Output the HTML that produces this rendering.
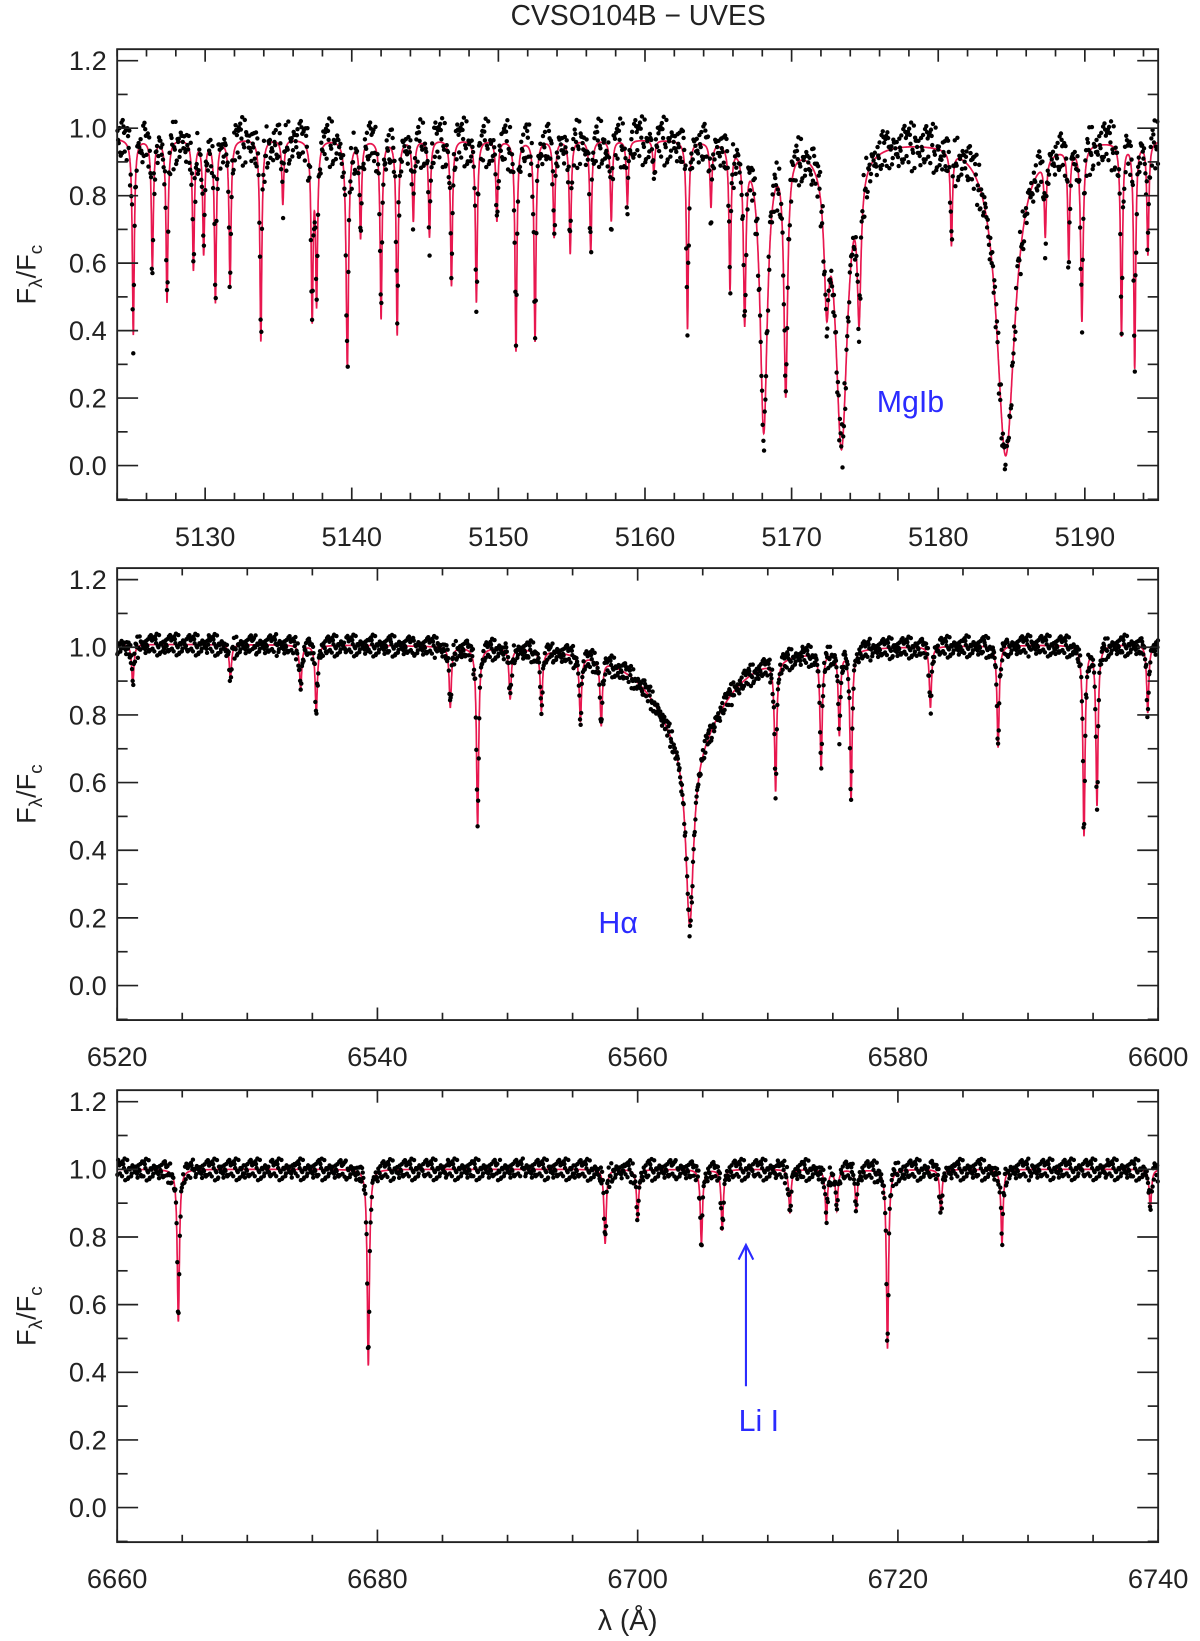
<!DOCTYPE html>
<html><head><meta charset="utf-8"><style>
html,body{margin:0;padding:0;background:#fff;}
svg{display:block;}
text{font-family:"Liberation Sans",sans-serif;fill:#222;}
</style></head><body>
<svg id="chart" width="1200" height="1641" viewBox="0 0 1147 1568.5" xmlns="http://www.w3.org/2000/svg">
<text x="610" y="24" font-size="27" text-anchor="middle">CVSO104B − UVES</text>
</svg>
<script>
// ---- Data ----
const panel1Centers = [5125.1,5126.4,5127.4,5129.2,5129.9,5130.7,5131.7,5133.8,5135.3,5137.3,5137.6,5139.7,5140.6,5142.0,5143.1,5144.2,5145.3,5146.8,5148.5,5149.9,5151.2,5152.5,5153.8,5154.9,5156.3,5157.7,5158.8,5160.6,5162.9,5164.5,5165.8,5166.8,5168.1,5169.6,5172.4,5173.4,5174.6,5180.9,5184.6,5187.3,5188.9,5189.8,5192.5,5193.4,5194.3];
const panel1Depths  = [0.6,0.4,0.5,0.4,0.35,0.5,0.45,0.62,0.2,0.55,0.5,0.7,0.3,0.55,0.6,0.25,0.3,0.45,0.5,0.25,0.65,0.62,0.3,0.35,0.35,0.25,0.2,0.1,0.58,0.2,0.45,0.55,0.9,0.78,0.45,0.95,0.5,0.3,0.97,0.25,0.35,0.55,0.6,0.7,0.35];
const panel1Widths  = [0.08,0.08,0.08,0.08,0.08,0.08,0.08,0.08,0.08,0.08,0.08,0.1,0.08,0.08,0.08,0.08,0.08,0.08,0.08,0.08,0.08,0.08,0.08,0.08,0.08,0.08,0.08,0.08,0.08,0.08,0.08,0.1,0.3,0.15,0.2,0.5,0.15,0.08,0.75,0.08,0.08,0.1,0.08,0.08,0.08];
const panel2Centers = [6521.2,6528.7,6534.1,6535.3,6545.6,6547.7,6550.2,6552.6,6555.6,6557.2,6564.0,6564.0,6570.6,6574.1,6575.5,6576.4,6582.5,6587.7,6594.3,6595.3,6599.2];
const panel2Depths  = [0.12,0.1,0.13,0.2,0.18,0.53,0.15,0.18,0.2,0.2,0.3,0.75,0.4,0.35,0.25,0.45,0.18,0.3,0.56,0.47,0.2];
const panel2Widths  = [0.1,0.1,0.1,0.1,0.1,0.1,0.1,0.1,0.1,0.1,3.0,0.35,0.1,0.1,0.1,0.1,0.1,0.1,0.1,0.1,0.1];
const panel3Centers = [6664.7,6679.3,6697.5,6700.0,6704.9,6706.5,6711.7,6714.5,6715.3,6716.8,6719.2,6723.3,6728.0,6739.4];
const panel3Depths  = [0.45,0.58,0.22,0.15,0.22,0.18,0.13,0.15,0.12,0.12,0.53,0.13,0.22,0.12];
const panel3Widths  = [0.1,0.1,0.1,0.1,0.1,0.1,0.1,0.1,0.1,0.1,0.1,0.1,0.1,0.1];
const noise = [0.03,-0.05,0.01,0.06,-0.02,-0.07,0.04,0.0,-0.03,0.08,-0.04,0.02,-0.06,0.05,-0.01,0.03,-0.08,0.07,-0.02,0.01,-0.05,0.04,0.02,-0.01,0.05,-0.03,0.0,0.06,-0.04,0.02,-0.02,0.03,-0.06,0.01,0.04,-0.05,0.0,0.07,-0.03];
const yTicks = [0.0,0.2,0.4,0.6,0.8,1.0,1.2];
const xTicks1 = [5130,5140,5150,5160,5170,5180,5190];
const xTicks2 = [6520,6540,6560,6580,6600];
const xTicks3 = [6660,6680,6700,6720,6740];

const NS='http://www.w3.org/2000/svg';
const svg=document.getElementById('chart');
function el(t,a,p){const e=document.createElementNS(NS,t);for(const k in a)e.setAttribute(k,a[k]);(p||svg).appendChild(e);return e;}

function model(l,C,D,W,cont){let f=cont;for(let i=0;i<C.length;i++){const u=(l-C[i])/W[i];f*=1-D[i]/(1+u*u);}return f;}

const panels=[
 {name:'mgb',top:47,bot:478,xmin:5124.0,xmax:5195.0,C:panel1Centers,D:panel1Depths,W:panel1Widths,ticks:xTicks1,minor:2,cont:0.97,ns:0.9,step:0.045},
 {name:'halpha',top:543,bot:975,xmin:6520,xmax:6600,C:panel2Centers,D:panel2Depths,W:panel2Widths,ticks:xTicks2,minor:5,cont:1.01,ns:0.4,step:0.045},
 {name:'lithium',top:1042,bot:1474,xmin:6660,xmax:6740,C:panel3Centers,D:panel3Depths,W:panel3Widths,ticks:xTicks3,minor:5,cont:1.0,ns:0.4,step:0.05}
];
const L=112,R=1107;
panels.forEach((p,pi)=>{
 const y0=p.bot-33, k=(y0-(p.top+11))/1.2;
 const ys=v=>y0-v*k;
 const xs=l=>L+(l-p.xmin)/(p.xmax-p.xmin)*(R-L);
 const g=el('g',{});
 
 
 let d='';
 for(let l=p.xmin;l<=p.xmax;l+=0.01){d+=(d?'L':'M')+xs(l).toFixed(1)+','+ys(model(l,p.C,p.D,p.W,p.cont)).toFixed(1);}
 const ln=el('path',{d:d,fill:'none',stroke:'#e8174f','stroke-width':1.6},g);
 
 
 const pts=el('g',{fill:'#000'},g);
 
 
 let i=0;
 for(let l=p.xmin+0.02;l<p.xmax;l+=p.step){const n=noise[(i*7+Math.floor(i/noise.length)*3+pi*5)%noise.length];i++;
  const v=model(l,p.C,p.D,p.W,p.cont)+n*p.ns;
  el('circle',{cx:xs(l).toFixed(1),cy:ys(v).toFixed(1),r:2.1},pts);}
 const bx=el('rect',{x:L,y:p.top,width:R-L,height:p.bot-p.top,fill:'none',stroke:'#222','stroke-width':1.8},g);
 
 
 for(let v=-0.1;v<=1.25;v+=0.1){const yy=ys(v);if(yy<p.top||yy>p.bot)continue;const major=Math.abs(Math.round(v*10)%2)===0;const len=major?20:10;
  el('line',{x1:L,x2:L+len,y1:yy,y2:yy,stroke:'#222','stroke-width':1.6},g);
  el('line',{x1:R,x2:R-len,y1:yy,y2:yy,stroke:'#222','stroke-width':1.6},g);}
 yTicks.forEach(v=>{const t=el('text',{x:L-10,y:ys(v)+9,'font-size':26,'text-anchor':'end'},g);t.textContent=v.toFixed(1);
  
  });
 const yt=el('text',{x:34,y:(p.top+p.bot)/2,'font-size':26,'text-anchor':'middle',transform:'rotate(-90 34 '+((p.top+p.bot)/2)+')'},g);
 yt.innerHTML='F<tspan font-size="18" dy="6">λ</tspan><tspan dy="-6">/F</tspan><tspan font-size="18" dy="6">c</tspan>';
 
 
 const first=Math.ceil(p.xmin/p.minor)*p.minor;
 for(let l=first;l<=p.xmax;l+=p.minor){const xx=xs(l);const major=p.ticks.includes(l);const len=major?12:7;
  el('line',{x1:xx,x2:xx,y1:p.bot,y2:p.bot-len,stroke:'#222','stroke-width':1.6},g);
  el('line',{x1:xx,x2:xx,y1:p.top,y2:p.top+len,stroke:'#222','stroke-width':1.6},g);}
 p.ticks.forEach(l=>{const t=el('text',{x:xs(l),y:p.bot+44,'font-size':26,'text-anchor':'middle'},g);t.textContent=l;
  
  });
});
let a=el('text',{x:838,y:394,'font-size':29,style:'fill:#2b2bff'});a.textContent='MgIb';


a=el('text',{x:572,y:892,'font-size':29,style:'fill:#2b2bff'});a.textContent='Hα';


a=el('line',{x1:713,y1:1325,x2:713,y2:1192,stroke:'#2b2bff','stroke-width':2});


a=el('path',{d:'M706,1204 L713,1190 L720,1204',fill:'none',stroke:'#2b2bff','stroke-width':2});


a=el('text',{x:706,y:1368,'font-size':29,style:'fill:#2b2bff'});a.textContent='Li I';


a=el('text',{x:600,y:1558,'font-size':27,'text-anchor':'middle'});a.textContent='λ (Å)';


</script>
</body></html>
